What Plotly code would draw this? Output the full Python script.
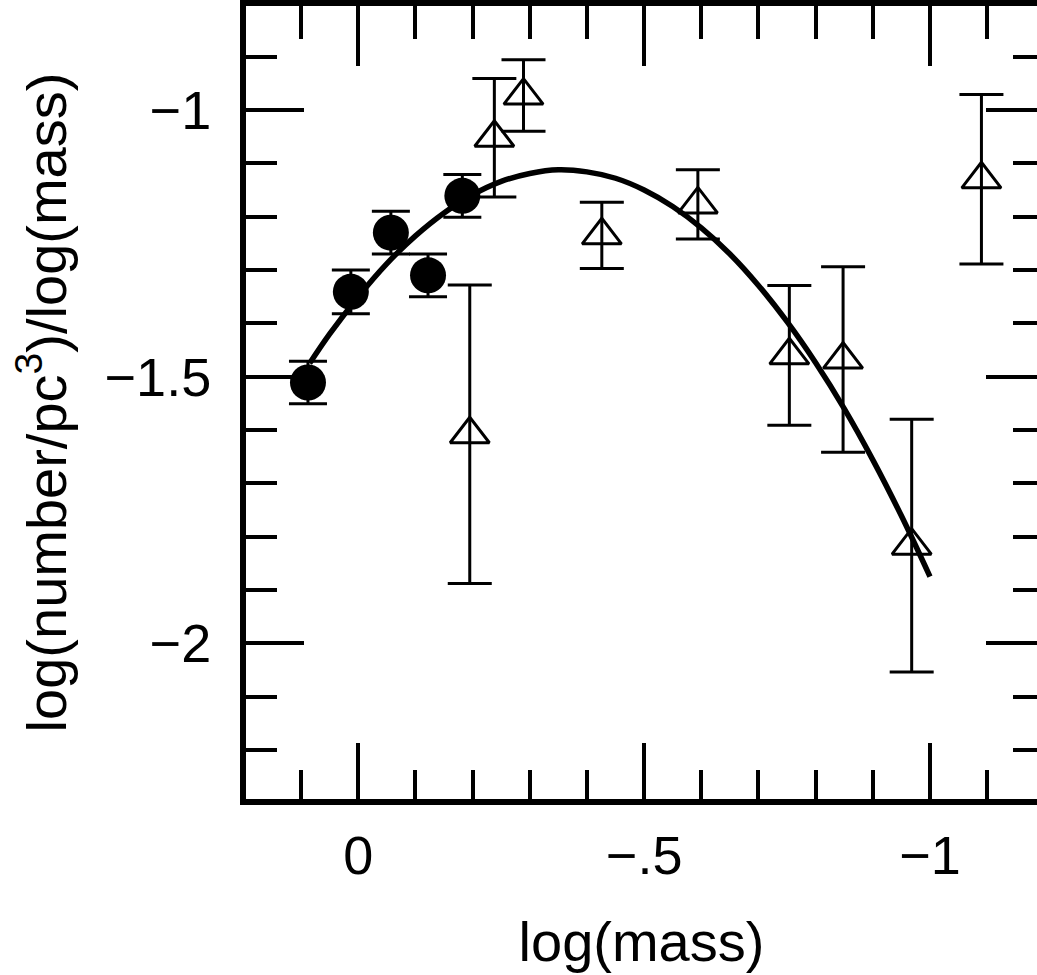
import plotly.graph_objects as go

# filled circles
disk_logm = [0.088, 0.013, -0.057, -0.122, -0.182]
disk_logn = [-1.511, -1.341, -1.230, -1.310, -1.161]
disk_err = [0.040, 0.041, 0.040, 0.040, 0.040]

# open triangles
clus_logm = [-0.195, -0.238, -0.289, -0.426, -0.594, -0.754, -0.848, -0.968, -1.090]
clus_logn = [-1.608, -1.052, -0.973, -1.235, -1.177, -1.460, -1.468, -1.817, -1.130]
clus_err = [0.280, 0.111, 0.067, 0.062, 0.065, 0.131, 0.174, 0.237, 0.159]

# fitted curve
fit_logm = [0.085, 0.05, 0.0, -0.05, -0.1, -0.15, -0.2, -0.25, -0.3, -0.35, -0.4,
            -0.45, -0.5, -0.55, -0.6, -0.65, -0.7, -0.75, -0.8, -0.85, -0.9, -0.95, -1.0]
fit_logn = [-1.475, -1.420, -1.350, -1.288, -1.236, -1.193, -1.159, -1.134, -1.119, -1.112, -1.116,
            -1.128, -1.150, -1.181, -1.221, -1.270, -1.329, -1.397, -1.474, -1.560, -1.656, -1.761, -1.875]

x_ticks = [0, -0.5, -1]
x_labels = ["0", "\u2212.5", "\u22121"]
y_ticks = [-1, -1.5, -2]
y_labels = ["\u22121", "\u22121.5", "\u22122"]

XR = [0.1964, -1.1872]
YR = [-2.292, -0.805]
FONT = "Liberation Sans, Arial, sans-serif"

fig = go.Figure()
fig.add_trace(go.Scatter(x=fit_logm, y=fit_logn, mode='lines', line_shape='spline',
                         line=dict(color='black', width=5.5)))
fig.add_trace(go.Scatter(x=disk_logm, y=disk_logn, mode='markers',
                         marker=dict(symbol='circle', size=36, color='black'),
                         error_y=dict(type='data', array=disk_err, color='black',
                                      thickness=3, width=19)))
fig.add_trace(go.Scatter(x=clus_logm, y=clus_logn, mode='markers',
                         marker=dict(symbol='triangle-up-open', size=34, color='black',
                                     line=dict(width=3)),
                         error_y=dict(type='data', array=clus_err, color='black',
                                      thickness=3, width=22)))
# empty trace so the top / right tick axes get drawn
fig.add_trace(go.Scatter(x=[None], y=[None], xaxis='x2', yaxis='y2', mode='markers',
                         hoverinfo='skip'))

axis_common = dict(showgrid=False, zeroline=False, tickcolor='black', tickwidth=4,
                   ticks='inside', linecolor='black', linewidth=6, automargin=False)

fig.update_layout(
    width=1037, height=975,
    margin=dict(l=246, r=0, t=6, b=176),
    paper_bgcolor='white', plot_bgcolor='white',
    showlegend=False,
    font=dict(family=FONT, color='black'),
    xaxis=dict(range=XR, tickmode='array', tickvals=x_ticks, ticktext=x_labels,
               ticklen=56, showline=True, tickfont=dict(size=54),
               ticklabelstandoff=4,
               minor=dict(tickmode='linear', tick0=0, dtick=0.1, ticks='inside',
                          ticklen=29, tickwidth=4, tickcolor='black'),
               title=dict(text='log(mass)', font=dict(size=56), standoff=40),
               **axis_common),
    yaxis=dict(range=YR, tickmode='array', tickvals=y_ticks, ticktext=y_labels,
               ticklen=58, showline=True, tickfont=dict(size=54),
               ticklabelstandoff=18,
               minor=dict(tickmode='linear', tick0=0, dtick=0.1, ticks='inside',
                          ticklen=31, tickwidth=4, tickcolor='black'),
               title=dict(text='log(number/pc<sup>3</sup>)/log(mass)', font=dict(size=56),
                          standoff=22),
               **axis_common),
    xaxis2=dict(range=XR, overlaying='x', side='top', anchor='y2', tickmode='linear',
                tick0=0, dtick=0.5, ticklen=60, showticklabels=False, showline=True,
                minor=dict(tickmode='linear', tick0=0, dtick=0.1, ticks='inside',
                           ticklen=33, tickwidth=4, tickcolor='black'),
                **axis_common),
    yaxis2=dict(range=YR, overlaying='y', side='right', anchor='x2', tickmode='linear',
                tick0=0, dtick=0.5, ticklen=51, showticklabels=False, showline=False,
                minor=dict(tickmode='linear', tick0=0, dtick=0.1, ticks='inside',
                           ticklen=24, tickwidth=4, tickcolor='black'),
                **axis_common),
)

# drop the browser's default 8px page margin so the figure sits at the window corner
fig.write_html("out.html", config={'displayModeBar': False},
               post_script="document.body.style.margin = '0';")
